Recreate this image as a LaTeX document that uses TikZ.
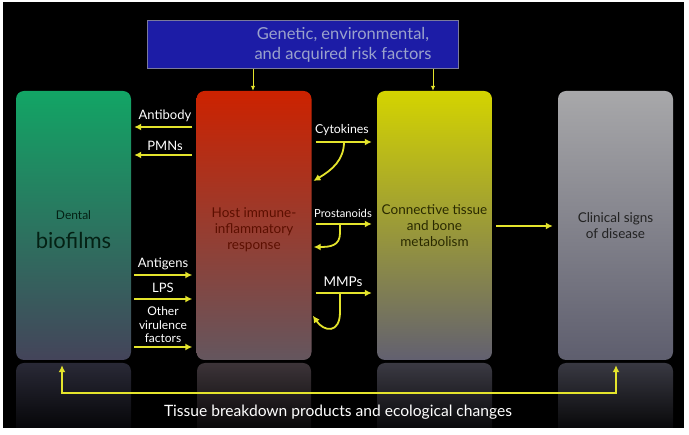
\documentclass[tikz,border=0pt]{standalone}
\usepackage{fontspec}
\setmainfont{Lato}
\usetikzlibrary{arrows.meta,calc}
\definecolor{ylw}{HTML}{E4E42C}
\definecolor{bluefill}{HTML}{1C1CA6}
\definecolor{blueline}{HTML}{7A7A9C}
\definecolor{bluetext}{HTML}{9AA2CC}
\definecolor{dentop}{HTML}{12A565}
\definecolor{denbot}{HTML}{44445A}
\definecolor{hosttop}{HTML}{CC2200}
\definecolor{hostbot}{HTML}{64565E}
\definecolor{contop}{HTML}{D4D400}
\definecolor{conbot}{HTML}{626070}
\definecolor{clitop}{HTML}{A8A8AA}
\definecolor{clibot}{HTML}{5E5E6E}
\begin{document}
\begin{tikzpicture}[x=1pt,y=-1pt,
  box/.style={rounded corners=8pt, minimum width=115pt, minimum height=269pt,
    inner sep=0pt, align=center, font=\fontsize{13.5}{16}\selectfont},
  refl/.style={rounded corners=8pt},
  lbl/.style={text=white, inner sep=0pt, align=center, font=\fontsize{13}{14}\selectfont},
  ya/.style={draw=ylw, line width=1.8pt, -{Latex[length=7pt,width=7pt]}},
  yb/.style={draw=ylw, line width=1pt, -{Latex[length=5pt,width=4.5pt]}}
]
\useasboundingbox (0,0) rectangle (689,435);
\fill[white] (0,0) rectangle (689,435);
\fill[black] (3,2) rectangle (684,428);

% reflections
\begin{scope}
\clip (3,2) rectangle (684,428);
\shade[refl, top color=denbot!60!black, bottom color=black] (16,363) rectangle (131,440);
\shade[refl, top color=hostbot!60!black, bottom color=black] (197,363) rectangle (311,440);
\shade[refl, top color=conbot!60!black, bottom color=black] (377,363) rectangle (492,440);
\shade[refl, top color=clibot!60!black, bottom color=black] (558,363) rectangle (673,440);
\end{scope}

% top box
\node[draw=blueline, fill=bluefill, line width=0.8pt, minimum width=311pt, minimum height=48pt, inner sep=0pt] (risk) at (302.5,44.5) {};
\node[text=bluetext, align=center, font=\fontsize{16.5}{20}\selectfont] (risktxt) at (343,45) {Genetic, environmental,\\and acquired risk factors};

% main boxes
\node[box, top color=dentop, bottom color=denbot, text=black!80!dentop] (dental) at (73.5,225.5)
  {{\fontsize{12}{14}\selectfont\rule{0pt}{17pt}Dental}\\[12pt]{\fontsize{22}{24}\selectfont biofilms}};
\node[box, top color=hosttop, bottom color=hostbot, text=hosttop!45!black] (host) at (254,225.5)
  {\rule{0pt}{18pt}Host immune-\\inflammatory\\response};
\node[box, top color=contop, bottom color=conbot, text=black!80!contop] (conn) at (434.5,225.5)
  {Connective tissue\\and bone\\metabolism};
\node[box, top color=clitop, bottom color=clibot, text=black!80!clitop] (clin) at (615.5,225.5)
  {Clinical signs\\of disease};

% risk arrows
\draw[yb] (risk.south -| 253,0) -- (host.north -| 253,0);
\draw[yb] (risk.south -| 433,0) -- (conn.north -| 433,0);

% left labels and arrows
\node[lbl] (antibody) at (165,116) {Antibody};
\node[lbl] (pmns) at (165,146) {PMNs};
\draw[ya, shorten <=4pt, shorten >=3pt] (host.west |- 0,127) -- (dental.east |- 0,127);
\draw[ya, shorten <=4pt, shorten >=3pt] (host.west |- 0,155) -- (dental.east |- 0,155);

\node[lbl] (antigens) at (163,264) {Antigens};
\node[lbl] (lps) at (163,288) {LPS};
\node[lbl, font=\fontsize{12}{13.5}\selectfont] (other) at (163,325) {Other\\virulence\\factors};
\draw[ya, shorten <=3pt, shorten >=4pt] (dental.east |- 0,275) -- (host.west |- 0,275);
\draw[ya, shorten <=3pt, shorten >=4pt] (dental.east |- 0,299) -- (host.west |- 0,299);
\draw[ya, shorten <=3pt, shorten >=4pt] (dental.east |- 0,347) -- (host.west |- 0,347);

% right labels and arrows
\node[lbl, font=\fontsize{12.3}{13}\selectfont] (cyto) at (342,130) {Cytokines};
\node[lbl, font=\fontsize{11.2}{13}\selectfont] (prost) at (343,213) {Prostanoids};
\node[lbl, font=\fontsize{13.5}{14}\selectfont] (mmps) at (343,282) {MMPs};
\draw[ya, shorten <=4pt, shorten >=5pt] (host.east |- 0,142) -- (conn.west |- 0,142);
\draw[ya, shorten <=4pt, shorten >=5pt] (host.east |- 0,224) -- (conn.west |- 0,224);
\draw[ya, shorten <=4pt, shorten >=5pt] (host.east |- 0,293) -- (conn.west |- 0,293);
\coordinate (c1) at (344,142);
\coordinate (c2) at (340,224);
\coordinate (c3) at (340,293);
\draw[ya, shorten >=2pt] (c1) .. controls (344,160) and (332,170) .. (host.east |- 0,182);
\draw[ya, shorten >=2pt] (c2) -- (340,233) .. controls (340,246) and (330,247) .. (host.east |- 0,247);
\draw[ya, shorten >=2pt] (c3) -- (340,312) .. controls (340,334) and (324,332) .. (host.east |- 0,314);

% conn -> clin
\draw[ya, shorten <=4pt, shorten >=5pt] (conn.east |- 0,226) -- (clin.west |- 0,226);

% feedback
\coordinate (fbl) at (62,393);
\coordinate (fbr) at (616,393);
\draw[draw=ylw, line width=1.8pt, {Latex[length=7pt,width=7pt]}-{Latex[length=7pt,width=7pt]}, shorten <=5pt, shorten >=5pt]
  (dental.south -| fbl) -- (fbl) -- (fbr) -- (clin.south -| fbr);
\node[text=white, font=\fontsize{15.6}{18}\selectfont] (tissue) at (338,412) {Tissue breakdown products and ecological changes};
\end{tikzpicture}
\end{document}
